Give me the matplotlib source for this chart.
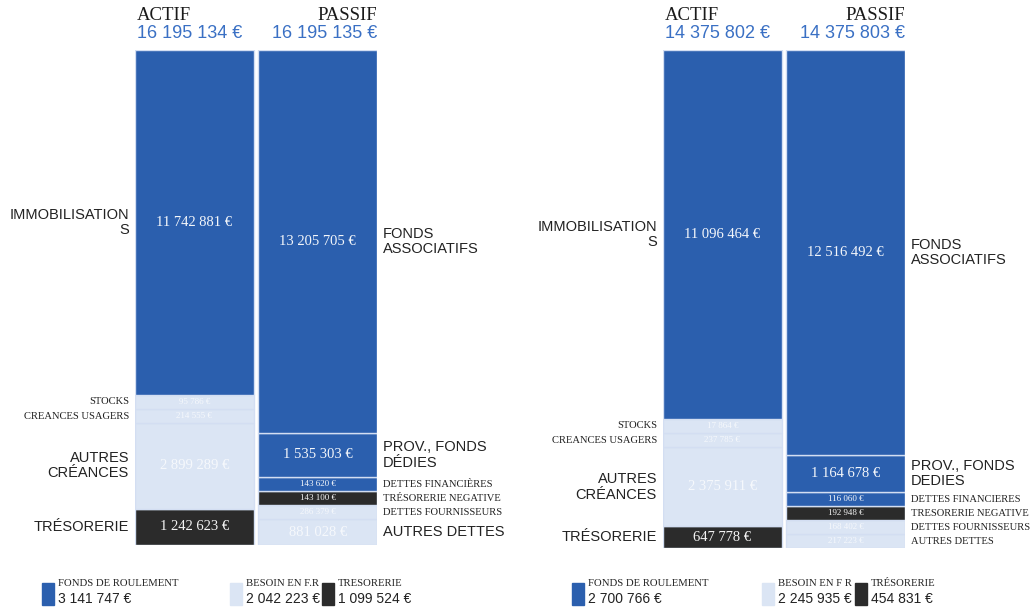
import matplotlib.pyplot as plt
from matplotlib.patches import Rectangle

actif_labels = ["TRÉSORERIE", "AUTRES\nCRÉANCES", "CREANCES USAGERS", "STOCKS", "IMMOBILISATION\nS"]
actif_groupes = ["tres", "bfr", "bfr", "bfr", "fr"]
passif_labels_n1 = ["AUTRES DETTES", "DETTES FOURNISSEURS", "TRÉSORERIE NEGATIVE",
                    "DETTES FINANCIÈRES", "PROV., FONDS\nDÉDIES", "FONDS\nASSOCIATIFS"]
passif_labels_n2 = ["AUTRES DETTES", "DETTES FOURNISSEURS", "TRESORERIE NEGATIVE",
                    "DETTES FINANCIERES", "PROV., FONDS\nDEDIES", "FONDS\nASSOCIATIFS"]
passif_groupes = ["bfr", "bfr", "tres", "fr", "fr", "fr"]

actif_n1 = [1242623, 2899289, 214555, 95786, 11742881]
passif_n1 = [881028, 286379, 143100, 143620, 1535303, 13205705]
actif_n2 = [647778, 2375911, 237785, 17864, 11096464]
passif_n2 = [217223, 168402, 192948, 116060, 1164678, 12516492]

total_actif = [16195134, 14375802]
total_passif = [16195135, 14375803]
legende_labels_n1 = ["FONDS DE ROULEMENT", "BESOIN EN F.R", "TRESORERIE"]
legende_labels_n2 = ["FONDS DE ROULEMENT", "BESOIN EN F R", "TRÉSORERIE"]
legende_n1 = [3141747, 2042223, 1099524]
legende_n2 = [2700766, 2245935, 454831]

# libellés en grand (sans) ou en petit (serif)
grand_actif = [True, True, False, False, True]
grand_passif_n1 = [True, False, False, False, True, True]
grand_passif_n2 = [False, False, False, False, True, True]

couleurs = {"fr": "#2b5fae", "bfr": "#dbe5f4", "tres": "#2b2b2b"}
BLEU_TXT = "#3a70c4"
W, H = 1035, 609


def euros(v):
    return f"{v:,}".replace(",", " ") + " €"


def hauteurs(vals, total, mini=0.03):
    # hauteur minimale pour les petits postes, puis remise à l'échelle
    d = [max(v, mini * total) for v in vals]
    s = sum(d)
    return [x * total / s for x in d]


fig = plt.figure(figsize=(W / 100, H / 100), dpi=100)


def colonne(ax, x, vals, groupes, labels, grands, total, cote):
    h = hauteurs(vals, total)
    bas = 0
    for v, hh, g, lab, gr in zip(vals, h, groupes, labels, grands):
        ax.bar(x, hh, bottom=bas, width=0.96, color=couleurs[g],
               edgecolor="#d3def2", linewidth=1.0)
        yc = bas + hh / 2
        alpha = 0.95 if g != "bfr" else 0.75
        ax.text(x, yc, euros(v), ha="center", va="center", color="white", alpha=alpha,
                fontsize=10.5 if hh > total * 0.04 else 6.5, family="Liberation Serif")
        if cote == "gauche":
            xy, off, ha = (x - 0.48, yc), (-6, 0), "right"
        else:
            xy, off, ha = (x + 0.48, yc), (6, 0), "left"
        if gr:
            ax.annotate(lab, xy=xy, xytext=off, textcoords="offset pixels", ha=ha, va="center",
                        fontsize=10.5, family="Liberation Sans", color="#222222",
                        linespacing=1.1, annotation_clip=False)
        else:
            ax.annotate(lab, xy=xy, xytext=off, textcoords="offset pixels", ha=ha, va="center",
                        fontsize=7.6, family="Liberation Serif", color="#222222",
                        annotation_clip=False)
        bas += hh


def bilan(x0, y0, y1, actif, passif, labels_p, grands_p, ta, tp, leg_labels, leg_vals, leg_x):
    ax = fig.add_axes([x0 / W, 1 - y1 / H, 242 / W, (y1 - y0) / H])
    colonne(ax, 0, actif, actif_groupes, actif_labels, grand_actif, ta, "gauche")
    colonne(ax, 1, passif, passif_groupes, labels_p, grands_p, tp, "droite")
    ax.set_xlim(-0.48, 1.48)
    ax.set_ylim(0, ta)
    ax.axis("off")
    # en-têtes
    fig.text((x0 + 2) / W, 1 - 16 / H, "ACTIF", ha="left", va="center",
             fontsize=13.5, family="Liberation Serif", color="#1a1a1a")
    fig.text((x0 + 242) / W, 1 - 16 / H, "PASSIF", ha="right", va="center",
             fontsize=13.5, family="Liberation Serif", color="#1a1a1a")
    fig.text((x0 + 2) / W, 1 - 33 / H, euros(ta), ha="left", va="center",
             fontsize=13, family="Liberation Sans", color=BLEU_TXT)
    fig.text((x0 + 242) / W, 1 - 33 / H, euros(tp), ha="right", va="center",
             fontsize=13, family="Liberation Sans", color=BLEU_TXT)
    # légende
    for lab, v, g, lx in zip(leg_labels, leg_vals, ["fr", "bfr", "tres"], leg_x):
        fig.patches.append(Rectangle((lx / W, 1 - 605 / H), 12 / W, 22 / H,
                                     transform=fig.transFigure, color=couleurs[g]))
        fig.text((lx + 16) / W, 1 - 584 / H, lab, ha="left", va="center",
                 fontsize=7.7, family="Liberation Serif", color="#222222")
        fig.text((lx + 16) / W, 1 - 599 / H, euros(v), ha="left", va="center",
                 fontsize=10, family="Liberation Sans", color="#222222")


bilan(135, 50, 545, actif_n1, passif_n1, passif_labels_n1, grand_passif_n1,
      total_actif[0], total_passif[0], legende_labels_n1, legende_n1, [42, 230, 322])
bilan(663, 50, 548, actif_n2, passif_n2, passif_labels_n2, grand_passif_n2,
      total_actif[1], total_passif[1], legende_labels_n2, legende_n2, [572, 762, 855])

fig.savefig("out.png", dpi=100, facecolor="white")
